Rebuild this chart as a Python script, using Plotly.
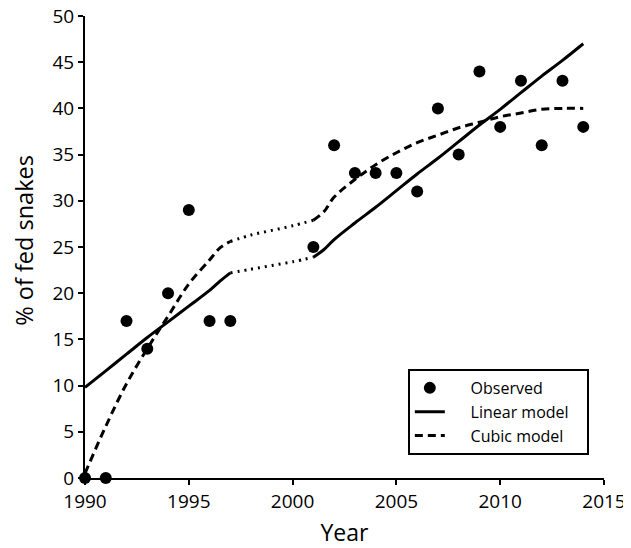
import plotly.graph_objects as go

# Observed data
obs_years = [1990, 1991, 1992, 1993, 1994, 1995, 1996, 1997, 2001, 2002, 2003, 2004,
             2005, 2006, 2007, 2008, 2009, 2010, 2011, 2012, 2013, 2014]
obs_vals = [0, 0, 17, 14, 20, 29, 17, 17, 25, 36, 33, 33, 33, 31, 40, 35, 44, 38, 43, 36, 43, 38]

# Linear model (fitted), early and late segments, plus gap (dotted)
lin_years_a = [1990, 1991, 1992, 1993, 1994, 1995, 1996, 1996.5, 1997]
lin_vals_a = [9.8, 11.6, 13.4, 15.2, 16.9, 18.6, 20.3, 21.3, 22.2]
lin_years_gap = [1997, 1998, 1999, 2000, 2001]
lin_vals_gap = [22.2, 22.6, 23.0, 23.4, 23.9]
lin_years_b = [2001, 2001.5, 2002, 2003, 2004, 2005, 2006, 2007, 2008, 2009, 2010, 2011, 2012, 2013, 2014]
lin_vals_b = [23.9, 24.7, 25.8, 27.6, 29.3, 31.1, 32.9, 34.6, 36.4, 38.2, 39.9, 41.7, 43.5, 45.2, 47.0]

# Cubic model (fitted)
cub_years_a = [1990, 1991, 1992, 1993, 1994, 1995, 1996, 1996.5, 1997]
cub_vals_a = [0.5, 5.6, 10.2, 14.0, 17.5, 21.0, 23.6, 24.9, 25.6]
cub_years_gap = [1997, 1998, 1999, 2000, 2001]
cub_vals_gap = [25.6, 26.3, 26.8, 27.3, 27.9]
cub_years_b = [2001, 2001.5, 2002, 2003, 2004, 2005, 2006, 2007, 2008, 2009, 2010, 2011, 2012, 2013, 2014]
cub_vals_b = [27.9, 28.8, 30.4, 32.3, 33.9, 35.2, 36.3, 37.1, 37.9, 38.5, 39.1, 39.5, 39.9, 40.0, 40.0]

legend_names = ["Observed", "Linear model", "Cubic model"]

FONT = "Open Sans"
LW = 3
PAD_L = "\u00a0" * 5
PAD_R = "\u00a0" * 3


def lname(i):
    return PAD_L + legend_names[i] + PAD_R


fig = go.Figure()

fig.add_trace(go.Scatter(x=obs_years, y=obs_vals, mode="markers", name=lname(0),
                         marker=dict(color="black", size=12), cliponaxis=False))
fig.add_trace(go.Scatter(x=lin_years_a, y=lin_vals_a, mode="lines", name=lname(1),
                         line=dict(color="black", width=LW, shape="spline"), legendgroup="lin"))
fig.add_trace(go.Scatter(x=lin_years_gap, y=lin_vals_gap, mode="lines", showlegend=False,
                         line=dict(color="black", width=LW, dash="2px,5px", shape="spline")))
fig.add_trace(go.Scatter(x=lin_years_b, y=lin_vals_b, mode="lines", showlegend=False,
                         line=dict(color="black", width=LW, shape="spline"), legendgroup="lin"))
fig.add_trace(go.Scatter(x=cub_years_a, y=cub_vals_a, mode="lines", name=lname(2),
                         line=dict(color="black", width=LW, dash="8px,5px", shape="spline"), legendgroup="cub"))
fig.add_trace(go.Scatter(x=cub_years_gap, y=cub_vals_gap, mode="lines", showlegend=False,
                         line=dict(color="black", width=LW, dash="2px,5px", shape="spline")))
fig.add_trace(go.Scatter(x=cub_years_b, y=cub_vals_b, mode="lines", showlegend=False,
                         line=dict(color="black", width=LW, dash="8px,5px", shape="spline"), legendgroup="cub"))

axis_common = dict(showline=True, linecolor="black", linewidth=2, ticks="outside", ticklen=5,
                   tickwidth=2, tickcolor="black", showgrid=False, zeroline=False, automargin=False,
                   ticklabeloverflow="allow",
                   tickfont=dict(family=FONT, size=19, color="black"))

fig.update_layout(
    width=623, height=540,
    margin=dict(l=77, r=27, t=8, b=70),
    plot_bgcolor="white", paper_bgcolor="white",
    xaxis=dict(range=[1990, 2015], tickvals=[1990, 1995, 2000, 2005, 2010, 2015],
               title=dict(text="Year", font=dict(family=FONT, size=23, color="black"), standoff=15),
               **axis_common),
    yaxis=dict(range=[0, 50], tickvals=list(range(0, 51, 5)), **axis_common),
    legend=dict(x=0.622, y=0.236, xanchor="left", yanchor="top", bordercolor="black", borderwidth=2,
                bgcolor="white", font=dict(family=FONT, size=16, color="black"),
                tracegroupgap=0),
    showlegend=True,
    annotations=[dict(text="% of fed snakes", xref="paper", yref="paper", x=-0.119, y=0.514,
                      xanchor="center", yanchor="middle", textangle=-90, showarrow=False,
                      font=dict(family=FONT, size=23.5, color="black"))],
)

fig.write_html("out.html")
